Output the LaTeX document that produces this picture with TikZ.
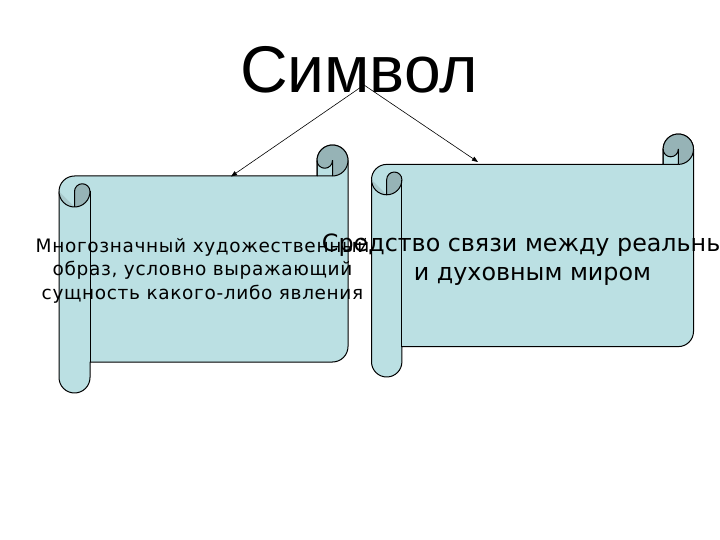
\documentclass[tikz,border=0pt]{standalone}
\usepackage{fontspec}
\setmainfont{DejaVu Sans}
\newfontfamily\titlefont{Liberation Sans}
\newfontfamily\spacedfont[LetterSpace=3.5]{DejaVu Sans}
\usetikzlibrary{arrows.meta}
\definecolor{scrollbody}{HTML}{BBE0E3}
\definecolor{scrolldark}{HTML}{96B3B6}
\definecolor{scrollmid}{HTML}{A9C9CC}
\tikzset{
  scrolledge/.style={draw=black, line width=1pt, line join=round},
  linkarrow/.style={draw=black, line width=0.6pt, -{Triangle[length=6pt,width=4.5pt]}},
  bodytext/.style={align=center, inner sep=0pt, text=black},
}
\newcommand\drawscroll[5]{%
  \pgfmathsetmacro\sL{#1}\pgfmathsetmacro\sT{#2}%
  \pgfmathsetmacro\sR{#3}\pgfmathsetmacro\sB{#4}%
  \pgfmathsetmacro\sC{#5}\pgfmathsetmacro\sH{#5/2}\pgfmathsetmacro\sQ{#5/4}%
  \path[fill=scrollbody, scrolledge]
    (\sR,\sT+\sH) arc[start angle=0,end angle=-180,radius=\sH]
    -- (\sR-\sC,\sT+\sC) -- (\sL+\sH,\sT+\sC)
    arc[start angle=-90,end angle=-180,radius=\sH]
    -- (\sL,\sB-\sH) arc[start angle=180,end angle=0,radius=\sH]
    -- (\sL+\sC,\sB-\sC) -- (\sR-\sH,\sB-\sC)
    arc[start angle=90,end angle=0,radius=\sH] -- cycle;
  \fill[scrolldark] (\sR-\sH,\sT+\sC) arc[start angle=90,end angle=-180,radius=\sH]
    arc[start angle=180,end angle=0,radius=\sQ] -- cycle;
  \fill[scrolldark] (\sL+\sH,\sT+2*\sC) arc[start angle=90,end angle=0,radius=\sH]
    arc[start angle=0,end angle=-180,radius=\sQ] -- cycle;
  \fill[scrollmid] (\sL,\sT+\sC+\sH) arc[start angle=180,end angle=90,radius=\sH] -- cycle;
  \draw[scrolledge] (\sR,\sT+\sH) arc[start angle=0,end angle=-180,radius=\sH]
    -- (\sR-\sC,\sT+\sC);
  \draw[scrolledge] (\sR-\sC,\sT+\sC) -- (\sR-\sH,\sT+\sC) -- (\sR-\sH,\sT+\sH)
    arc[start angle=0,end angle=180,radius=\sQ];
  \draw[scrolledge] (\sR-\sH,\sT+\sC) arc[start angle=90,end angle=0,radius=\sH];
  \draw[scrolledge] (\sL+\sH,\sT+2*\sC) -- (\sL+\sH,\sT+\sC+\sH)
    arc[start angle=180,end angle=360,radius=\sQ]
    arc[start angle=0,end angle=180,radius=\sH];
  \draw[scrolledge] (\sL+\sC,\sT+\sC+\sH) -- (\sL+\sC,\sB-\sC);
}
\begin{document}
\begin{tikzpicture}[x=1pt,y=-1pt]
  \useasboundingbox (0,0) rectangle (720,540);
  \clip (0,0) rectangle (720,540);
  \fill[white] (0,0) rectangle (720,540);
  % scrolls
  \drawscroll{59}{145}{348}{393}{31}
  \drawscroll{371.5}{134}{693.5}{377}{30.4}
  % title
  \node[inner sep=0pt, anchor=base, font=\titlefont\fontsize{66}{66}\selectfont] (title) at (359,92.5) {Символ};
  % texts (base anchor = last line's baseline)
  \node[bodytext, anchor=base, font=\spacedfont\fontsize{18.5}{23.5}\selectfont] (lefttext) at (202.5,299)
    {Многозначный художественный\\образ, условно выражающий\\сущность какого-либо явления};
  \node[bodytext, anchor=base, font=\fontsize{23.8}{29}\selectfont] (righttext) at (532.5,280)
    {Средство связи между реальным\\и духовным миром};
  % connectors
  \coordinate (src) at (364,85);
  \coordinate (lefttop) at (231,176.5);
  \coordinate (righttop) at (478,162);
  \draw[linkarrow] (src) -- (lefttop);
  \draw[linkarrow] (src) -- (righttop);
\end{tikzpicture}
\end{document}
